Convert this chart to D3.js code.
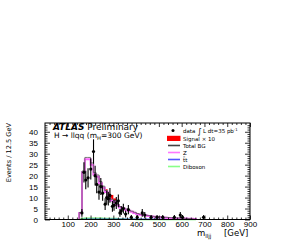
<!DOCTYPE html>
<html>
<head>
<meta charset="utf-8">
<script src="https://cdn.jsdelivr.net/npm/d3@7"></script>
<style>
  body { margin: 0; background: #fff; }
  svg { display: block; font-family: "DejaVu Sans", sans-serif; }
</style>
</head>
<body>
<svg id="chart" width="286" height="240"></svg>
<script>
// histogram bins: 12.5 GeV wide, first lower edge
var binStart = 150, binWidth = 12.5;

// Z+jets (magenta)
var zVals = [3, 21.5, 27.5, 27.5, 25, 20.5, 19.5, 16.5, 14.5, 12.5, 9.5, 8.5, 8, 6.5, 5.5, 5,
             4.5, 4, 3.5, 3, 2.5, 2.2, 2, 1.8, 1.6, 1.4, 1.2, 1.1, 1, 0.9, 0.8, 0.7, 0.6, 0.6,
             0.5, 0.5, 0.4, 0.4, 0.3, 0.3, 0.2];
// ttbar (blue) and diboson (green)
var ttVals = [0, 0.1, 0.2, 0.2, 0.2, 0.2, 0.2, 0.2, 0.2, 0.2, 0.2, 0.2, 0.2, 0.2, 0.2, 0.2,
              0.2, 0.2, 0.2, 0.2, 0.2, 0.2, 0.2, 0.2, 0.2, 0.2, 0.2, 0.2, 0.2, 0.2, 0.2, 0.2,
              0.2, 0.2, 0.2, 0.2, 0.2, 0.1, 0.1, 0, 0];
var dibVals = [0.2, 0.5, 0.6, 0.6, 0.6, 0.6, 0.6, 0.6, 0.5, 0.5, 0.5, 0.5, 0.4, 0.3, 0.2, 0.2,
               0.1, 0.1, 0.1, 0.1, 0, 0, 0, 0, 0, 0, 0, 0, 0, 0, 0, 0, 0, 0, 0, 0, 0, 0, 0, 0, 0];
// signal x 10 (stacked on total BG)
var sigEdges = [262.5, 275, 287.5, 300];
var sigVals = [0.6, 1.6, 2.0, 1.0];

// data points
var dataMass  = [162, 171, 179, 189, 201, 213, 220, 227, 237, 245, 253, 264, 271, 278, 285,
                 296, 303, 313, 322, 329, 335, 344, 354, 366, 379, 405, 427, 438, 466, 492,
                 517, 568, 594, 604, 696];
var dataCount = [3, 21.5, 18, 19, 23, 31, 20, 16, 12.5, 15, 12, 7, 10, 9.5, 11,
                 6, 6.5, 7.5, 8.5, 3, 4, 5, 2.5, 4.5, 1, 1, 3, 2, 1, 1,
                 1, 1, 2, 1, 1];

var xTicks = [100, 200, 300, 400, 500, 600, 700, 800, 900];
var yTicks = [0, 5, 10, 15, 20, 25, 30, 35, 40];

var legendNames = ["Signal \u00d7 10", "Total BG", "Z", "tt", "Diboson"];
var legendColors = ["#ff0000", "#444444", "#ff77ff", "#5555ff", "#88ff88"];

var svg = d3.select('#chart');
var fL = 45, fR = 250, fT = 123, fB = 219.5;

var x = d3.scaleLinear().domain([0, 900]).range([fL, fR]);
var y = d3.scaleLinear().domain([0, 44]).range([fB, fT]);

function stepPath(vals) {
    var pts = [[binStart, 0]];
    vals.forEach(function (v, i) { pts.push([binStart + i * binWidth, v]); });
    pts.push([binStart + vals.length * binWidth, vals[vals.length - 1]]);
    pts.push([binStart + vals.length * binWidth, 0]);
    return d3.line()
        .x(function (d) { return x(d[0]); })
        .y(function (d) { return y(d[1]); })
        .curve(d3.curveStepAfter)(pts);
}

var totVals = zVals.map(function (v, i) { return v + ttVals[i] + dibVals[i]; });

// signal blocks
svg.append('g')
    .selectAll('rect')
    .data(sigEdges)
    .enter()
    .append('rect')
    .attr('x', function (d) { return x(d); })
    .attr('width', function (d) { return x(d + binWidth) - x(d); })
    .attr('y', function (d, i) {
        var b = Math.round((d - binStart) / binWidth);
        return y(totVals[b] + sigVals[i]);
    })
    .attr('height', function (d, i) { return y(0) - y(sigVals[i]); })
    .attr('fill', '#ff0000');

svg.append('path').attr('d', stepPath(dibVals))
    .attr('fill', 'none').attr('stroke', '#66ee66').attr('stroke-width', 1.5);
svg.append('path').attr('d', stepPath(ttVals))
    .attr('fill', 'none').attr('stroke', '#5555ff').attr('stroke-width', 1);
svg.append('path').attr('d', stepPath(zVals))
    .attr('fill', 'none').attr('stroke', '#ff66ff').attr('stroke-width', 2);
svg.append('path').attr('d', stepPath(totVals))
    .attr('fill', 'none').attr('stroke', '#555555').attr('stroke-width', 0.8);

// data with sqrt(N) errors
var pts = svg.append('g');
dataMass.forEach(function (m, i) {
    var n = dataCount[i], e = Math.sqrt(n);
    pts.append('line')
        .attr('x1', x(m)).attr('x2', x(m))
        .attr('y1', y(n + e)).attr('y2', y(Math.max(0, n - e)))
        .attr('stroke', '#000').attr('stroke-width', 1.1);
    pts.append('circle')
        .attr('cx', x(m)).attr('cy', y(n)).attr('r', 1.6).attr('fill', '#000');
});

// frame
svg.append('rect')
    .attr('x', fL).attr('y', fT)
    .attr('width', fR - fL).attr('height', fB - fT)
    .attr('fill', 'none').attr('stroke', '#000').attr('stroke-width', 1);

var xMinor = d3.range(0, 901, 20).filter(function (v) { return v % 100 !== 0; });
var yMinor = d3.range(0, 44, 1).filter(function (v) { return v % 5 !== 0; });

function styleAxis(g) {
    g.select('.domain').remove();
    g.selectAll('line').attr('stroke', '#000').attr('stroke-width', 0.8);
    g.selectAll('text').attr('font-size', 8).attr('fill', '#000');
}

svg.append('g').attr('transform', 'translate(0,' + fB + ')')
    .call(d3.axisBottom(x).tickValues(xTicks).tickSize(-4).tickPadding(1.5).tickFormat(d3.format('d')))
    .call(styleAxis);
svg.append('g').attr('transform', 'translate(0,' + fB + ')')
    .call(d3.axisBottom(x).tickValues(xMinor).tickSize(-2).tickFormat(''))
    .call(styleAxis);
svg.append('g').attr('transform', 'translate(0,' + fT + ')')
    .call(d3.axisTop(x).tickValues(xTicks).tickSize(-4).tickFormat(''))
    .call(styleAxis);
svg.append('g').attr('transform', 'translate(0,' + fT + ')')
    .call(d3.axisTop(x).tickValues(xMinor).tickSize(-2).tickFormat(''))
    .call(styleAxis);

svg.append('g').attr('transform', 'translate(' + fL + ',0)')
    .call(d3.axisLeft(y).tickValues(yTicks).tickSize(-5).tickPadding(7).tickFormat(d3.format('d')))
    .call(styleAxis);
svg.append('g').attr('transform', 'translate(' + fL + ',0)')
    .call(d3.axisLeft(y).tickValues(yMinor).tickSize(-2.5).tickFormat(''))
    .call(styleAxis);
svg.append('g').attr('transform', 'translate(' + fR + ',0)')
    .call(d3.axisRight(y).tickValues(yTicks).tickSize(-5).tickFormat(''))
    .call(styleAxis);
svg.append('g').attr('transform', 'translate(' + fR + ',0)')
    .call(d3.axisRight(y).tickValues(yMinor).tickSize(-2.5).tickFormat(''))
    .call(styleAxis);

// axis titles
svg.append('text')
    .attr('transform', 'translate(11,' + fT + ') rotate(-90)')
    .attr('text-anchor', 'end')
    .attr('font-size', 6.6)
    .text('Events / 12.5 GeV');

var xt = svg.append('text').attr('x', 197).attr('y', 236).attr('font-size', 8.5);
xt.append('tspan').text('m');
xt.append('tspan').attr('dy', 2).attr('font-size', 5.5).text('lljj');
xt.append('tspan').attr('x', 224).attr('dy', -2).text('[GeV]');

// labels
var lab = svg.append('text').attr('x', 53).attr('y', 130).attr('font-size', 9);
lab.append('tspan').attr('font-weight', 'bold').attr('font-style', 'italic').text('ATLAS');
lab.append('tspan').text(' Preliminary');
var lab2 = svg.append('text').attr('x', 54).attr('y', 138).attr('font-size', 7.5);
lab2.append('tspan').text('H \u2192 llqq (m');
lab2.append('tspan').attr('dy', 1.5).attr('font-size', 5.3).text('H');
lab2.append('tspan').attr('dy', -1.5).text('=300 GeV)');

// legend
var lg = svg.append('g').attr('font-size', 5.5);
lg.append('circle').attr('cx', 173).attr('cy', 130.5).attr('r', 1.5).attr('fill', '#000');
var dl = lg.append('text').attr('x', 183).attr('y', 132.5);
dl.append('tspan').text('data ');
dl.append('tspan').attr('font-size', 8).attr('dy', 1).text('\u222b');
dl.append('tspan').attr('dy', -1).text(' L dt=35 pb');
dl.append('tspan').attr('dy', -2).attr('font-size', 3.8).text('-1');

legendNames.forEach(function (name, i) {
    var yy = 138.5 + i * 7;
    if (i === 0) {
        lg.append('rect').attr('x', 167).attr('y', yy - 2.7).attr('width', 13.5).attr('height', 5.2)
            .attr('fill', legendColors[i]);
    } else {
        lg.append('line').attr('x1', 168).attr('x2', 180).attr('y1', yy).attr('y2', yy)
            .attr('stroke', legendColors[i]).attr('stroke-width', 1.6);
    }
    lg.append('text').attr('x', 183).attr('y', yy + 2).text(name);
    if (name === 'tt') {
        // overline bar over the first t
        lg.append('line').attr('x1', 183.1).attr('x2', 185.2)
            .attr('y1', yy - 2.6).attr('y2', yy - 2.6)
            .attr('stroke', '#000').attr('stroke-width', 0.4);
    }
});
</script>
</body>
</html>
